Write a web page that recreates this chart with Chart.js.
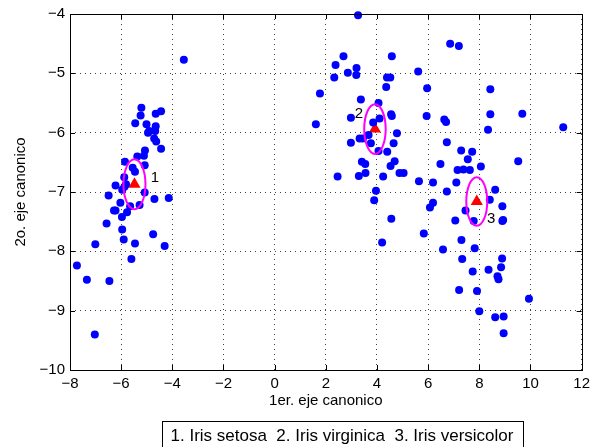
<!DOCTYPE html>
<html lang="es">
<head>
<meta charset="UTF-8">
<title>Iris - ejes canonicos</title>
<script src="https://cdn.jsdelivr.net/npm/chart.js"></script>
<style>
  html, body { margin: 0; padding: 0; background: #fff; }
  #wrap { width: 595px; height: 447px; }
</style>
</head>
<body>
<div id="wrap"><canvas id="chart" width="595" height="447"></canvas></div>
<script>
// muestras proyectadas sobre los dos primeros ejes canonicos
const puntosX = [
  -3.55, -5.21, -4.44, -4.65, -5.24, -5.45, -5.01, -4.65, -4.90, -4.67, -4.95, -4.71, -4.63, -4.44, -5.07, -5.11, -5.37,
  -5.85, -5.08, -5.55, -5.46, -5.88, -6.22, -5.87, -5.81, -5.96, -5.08, -6.49, -4.70, -4.14, -6.03, -5.28, -5.65, -6.22,
  -6.28, -5.77, -5.97, -6.57, -5.96, -4.75, -5.90, -5.46, -7.01, -4.30, -5.60, -7.73, -7.34, -6.46, -7.03,
  3.26, 2.69, 4.58, 2.38, 3.20, 2.86, 3.19, 5.61, 2.33, 4.39, 4.52, 4.36, 5.96, 1.77, 3.37, 4.06, 4.55, 4.58, 5.94, 6.63,
  2.98, 4.10, 3.85, 1.61, 4.78, 6.73, 2.98, 3.32, 3.45, 3.67, 3.76, 4.65, 4.06, 4.40, 4.69, 4.53, 3.41, 3.54, 6.48, 2.46,
  3.29, 3.55, 4.24, 4.88, 5.04, 5.64, 6.19, 3.96, 3.89, 6.19, 6.07, 6.73, 4.56, 5.83, 4.20, 6.58, 6.70,
  8.43, 9.68, 8.34, 11.28, 7.29, 7.72, 7.55, 9.52, 7.15, 7.38, 7.63, 8.06, 7.10, 8.62, 8.41, 8.90, 7.46, 8.90, 8.93, 7.78,
  7.06, 7.30, 7.82, 8.89, 7.33, 8.85, 7.74, 8.36, 8.71, 8.75, 7.21, 7.91, 9.94, 8.00, 8.62, 8.95, 8.95,
  6.86, 7.20, 8.43
];
const puntosY = [
  -4.77, -5.58, -5.64, -5.68, -5.71, -5.84, -5.86, -5.89, -5.97, -5.97, -6.00, -6.10, -6.15, -6.27, -6.30, -6.39, -6.40,
  -6.49, -6.55, -6.59, -6.66, -6.75, -6.89, -6.91, -6.87, -6.96, -7.01, -7.06, -7.12, -7.10, -7.18, -7.22, -7.24, -7.31,
  -7.31, -7.34, -7.42, -7.53, -7.63, -7.71, -7.80, -7.87, -7.88, -7.91, -8.13, -8.24, -8.48, -8.50, -9.40,
  -4.02, -4.71, -4.71, -4.86, -4.91, -4.99, -5.03, -4.97, -5.07, -5.07, -5.07, -5.23, -5.25, -5.34, -5.44, -5.50, -5.69, -5.72, -5.72, -5.78,
  -5.75, -5.76, -5.83, -5.86, -6.01, -6.16, -6.17, -6.10, -6.10, -6.04, -6.18, -6.18, -6.31, -6.32, -6.48, -6.56, -6.49, -6.53, -6.53, -6.74,
  -6.73, -6.68, -6.74, -6.68, -6.68, -6.82, -6.84, -6.98, -7.14, -7.18, -7.26, -6.99, -7.45, -7.70, -7.85, -7.97, -5.82,
  -5.69, -5.68, -5.95, -5.91, -6.30, -6.32, -6.45, -6.48, -6.63, -6.62, -6.63, -6.57, -6.84, -6.96, -7.13, -7.24, -7.31, -7.49, -7.47, -7.49,
  -7.48, -7.81, -7.95, -8.12, -8.13, -8.27, -8.34, -8.31, -8.42, -8.47, -8.65, -8.67, -8.80, -9.01, -9.11, -9.10, -9.38,
  -4.50, -4.54, -5.27
];

// centroides de las tres clases y sus elipses
const centroX = [-5.48, 3.92, 7.90];
const centroY = [-6.87, -5.94, -7.16];
const radioX = [0.43, 0.42, 0.41];
const radioY = [0.42, 0.42, 0.41];
const etiquetas = ['1', '2', '3'];
const etiquetaX = [-4.68, 3.29, 8.46];
const etiquetaY = [-6.76, -5.69, -7.46];

const ticksX = [-8, -6, -4, -2, 0, 2, 4, 6, 8, 10, 12];
const ticksY = [-10, -9, -8, -7, -6, -5, -4];
const tituloX = '1er. eje canonico';
const tituloY = '2o. eje canonico';
const leyenda = '1. Iris setosa  2. Iris virginica  3. Iris versicolor';

const FAM = '"Liberation Sans", Arial, sans-serif';
const TAM = 15;
const menos = v => String(v).replace('-', '\u2212');

const extras = {
  id: 'extras',
  afterDatasetsDraw(chart) {
    const { ctx, scales: { x, y } } = chart;
    ctx.save();
    ctx.strokeStyle = '#ff00ff';
    ctx.lineWidth = 2;
    centroX.forEach((cx, i) => {
      const px = x.getPixelForValue(cx), py = y.getPixelForValue(centroY[i]);
      const rx = Math.abs(x.getPixelForValue(cx + radioX[i]) - px);
      const ry = Math.abs(y.getPixelForValue(centroY[i] + radioY[i]) - py);
      ctx.beginPath();
      ctx.ellipse(px, py, rx, ry, 0, 0, 2 * Math.PI);
      ctx.stroke();
    });
    ctx.fillStyle = '#000';
    ctx.font = TAM + 'px ' + FAM;
    ctx.textAlign = 'center';
    ctx.textBaseline = 'middle';
    etiquetas.forEach((t, i) => {
      ctx.fillText(t, x.getPixelForValue(etiquetaX[i]), y.getPixelForValue(etiquetaY[i]));
    });
    ctx.restore();
  },
  afterDraw(chart) {
    const { ctx, chartArea: a, scales: { x, y } } = chart;
    ctx.save();
    ctx.strokeStyle = '#000';
    ctx.lineWidth = 1;
    ctx.strokeRect(Math.round(a.left) + 0.5, Math.round(a.top) + 0.5,
                   Math.round(a.right - a.left), Math.round(a.bottom - a.top));
    // marcas hacia dentro en los cuatro lados
    ctx.beginPath();
    ticksX.forEach(v => {
      const p = Math.round(x.getPixelForValue(v)) + 0.5;
      ctx.moveTo(p, a.bottom); ctx.lineTo(p, a.bottom - 5);
      ctx.moveTo(p, a.top); ctx.lineTo(p, a.top + 5);
    });
    ticksY.forEach(v => {
      const p = Math.round(y.getPixelForValue(v)) + 0.5;
      ctx.moveTo(a.left, p); ctx.lineTo(a.left + 5, p);
      ctx.moveTo(a.right, p); ctx.lineTo(a.right - 5, p);
    });
    ctx.stroke();
    // cuadro de leyenda
    ctx.strokeRect(162.5, 421.5, 361, 30);
    ctx.fillStyle = '#000';
    ctx.font = '17px ' + FAM;
    ctx.textAlign = 'center';
    ctx.textBaseline = 'middle';
    ctx.fillText(leyenda, 342, 436);
    ctx.restore();
  }
};

new Chart(document.getElementById('chart'), {
  type: 'scatter',
  data: {
    datasets: [
      {
        data: puntosX.map((v, i) => ({ x: v, y: puntosY[i] })),
        backgroundColor: '#0000ff', borderColor: '#0000ff', borderWidth: 0,
        pointRadius: 4, clip: false
      },
      {
        data: centroX.map((v, i) => ({ x: v, y: centroY[i] })),
        pointStyle: 'triangle', pointRadius: 7,
        backgroundColor: '#ff0000', borderColor: '#ff0000', borderWidth: 0
      }
    ]
  },
  options: {
    responsive: false,
    animation: false,
    layout: { padding: { left: 0, right: 8, top: 14, bottom: 0 } },
    plugins: { legend: { display: false }, tooltip: { enabled: false } },
    scales: {
      x: {
        type: 'linear', min: -8, max: 12,
        afterBuildTicks: s => { s.ticks = ticksX.map(v => ({ value: v })); },
        afterFit: s => { s.height = 77; },
        grid: { color: 'rgba(0,0,0,0.75)', lineWidth: 1, drawTicks: false },
        border: { display: false, dash: [1, 4] },
        ticks: { color: '#000', padding: 5, maxRotation: 0, font: { family: FAM, size: TAM }, callback: v => menos(v) },
        title: { display: true, text: tituloX, color: '#000', font: { family: FAM, size: TAM }, padding: { top: 0, bottom: 37 } }
      },
      y: {
        type: 'linear', min: -10, max: -4,
        afterBuildTicks: s => { s.ticks = ticksY.map(v => ({ value: v })); },
        afterFit: s => { s.width = 70; },
        grid: { color: 'rgba(0,0,0,0.75)', lineWidth: 1, drawTicks: false },
        border: { display: false, dash: [1, 4] },
        ticks: { color: '#000', padding: 5, font: { family: FAM, size: TAM }, callback: v => menos(v) },
        title: { display: true, text: tituloY, color: '#000', font: { family: FAM, size: TAM }, padding: { top: 12, bottom: 0 } }
      }
    }
  },
  plugins: [extras]
});
</script>
</body>
</html>
